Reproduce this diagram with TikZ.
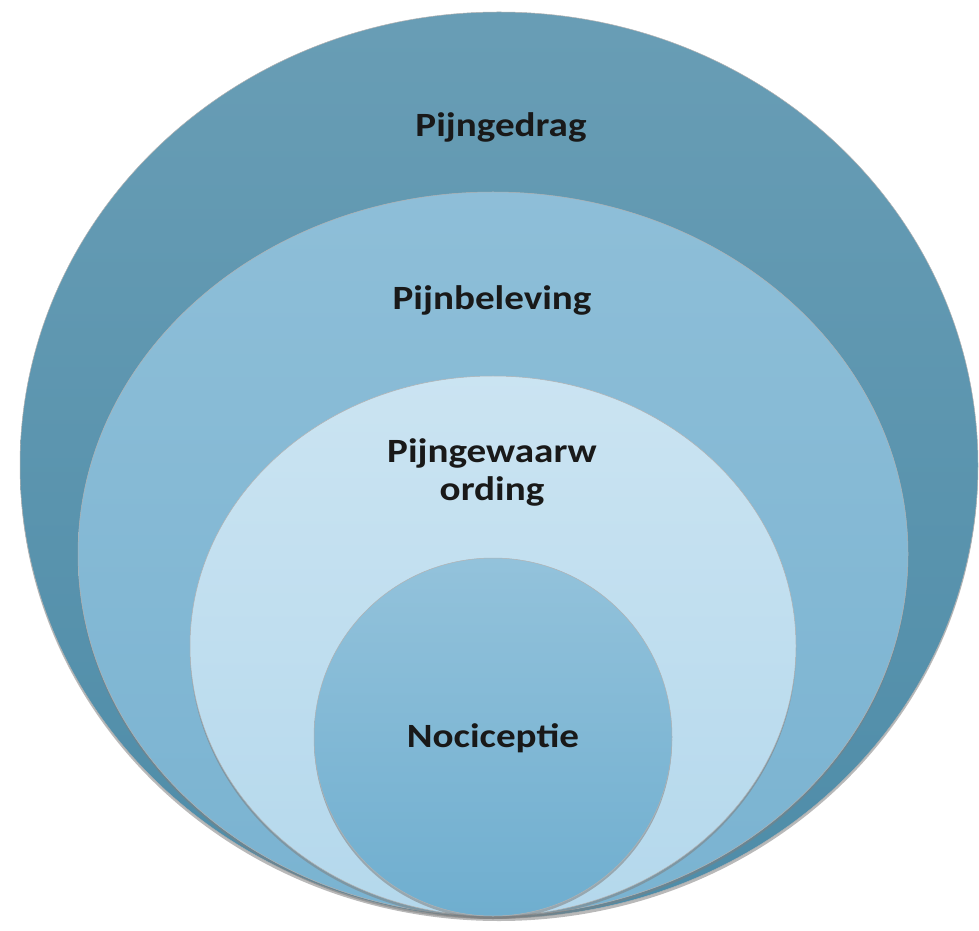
\documentclass[tikz,border=0pt]{standalone}
\usepackage{fontspec}
\newfontfamily\lblfont{Carlito}[FakeStretch=1.15]
\usetikzlibrary{shapes.geometric,shadows}
\definecolor{ringA}{HTML}{4E8CA8}
\definecolor{ringB}{HTML}{7AB3D1}
\definecolor{ringC}{HTML}{B4D8EC}
\definecolor{ringD}{HTML}{6FAECF}

\begin{document}
\begin{tikzpicture}[x=1pt,y=1pt,
  ring/.style={ellipse, inner sep=0pt, draw=black!30, line width=0.5pt,
    drop shadow={opacity=0.55, shadow xshift=0pt, shadow yshift=-3pt}},
  lbl/.style={font=\lblfont\bfseries\fontsize{34}{38}\selectfont, anchor=base,
    inner sep=0pt, align=center, text=black!90}]
\useasboundingbox (0,0) rectangle (979,930);
\node[ring, minimum width=958pt, minimum height=906pt, top color=ringA!85!white, bottom color=ringA] (ring1) at (499,465) {};
\node[ring, minimum width=830pt, minimum height=724pt, top color=ringB!85!white, bottom color=ringB] (ring2) at (493,376) {};
\node[ring, minimum width=606pt, minimum height=540pt, top color=ringC!70!white, bottom color=ringC] (ring3) at (493,284) {};
\node[ring, minimum width=358pt, minimum height=358pt, top color=ringD!75!white, bottom color=ringD] (ring4) at (493,193) {};
\node[lbl] (gedrag) at (501,793) {Pijngedrag};
\node[lbl] (beleving) at (492,620) {Pijnbeleving};
\node[lbl] (gewaarwording) at (492,429) {Pijngewaarw\\ording};
\node[lbl] (nociceptie) at (493,183) {Nociceptie};
\end{tikzpicture}
\end{document}
